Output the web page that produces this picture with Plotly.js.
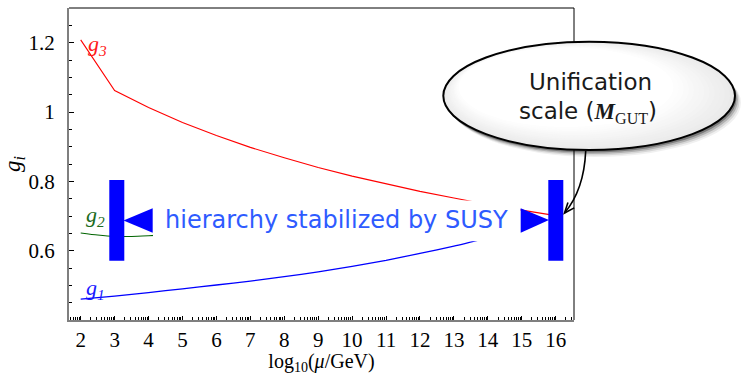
<!DOCTYPE html>
<html><head><meta charset="utf-8">
<script src="https://cdn.plot.ly/plotly-3.0.1.min.js"></script>
<style>html,body{margin:0;padding:0;background:#fff}#chart{width:741px;height:375px}</style>
</head><body><div id="chart"></div>
<script>
// ---- data ----
const xG3 = [2, 3, 4, 5, 6, 7, 8, 9, 10, 11, 12, 13, 14, 15, 16];
const g3  = [1.208, 1.062, 1.013, 0.970, 0.932, 0.898, 0.868, 0.840, 0.815, 0.792, 0.771, 0.752, 0.733, 0.717, 0.701];
const xG2 = [2, 2.5, 3, 3.5, 4, 4.2];
const g2  = [0.651, 0.645, 0.641, 0.641, 0.643, 0.644];
const xG1 = [2, 3, 4, 5, 6, 7, 8, 9, 10, 11, 12, 13, 14];
const g1  = [0.460, 0.469, 0.479, 0.490, 0.501, 0.512, 0.525, 0.539, 0.555, 0.572, 0.592, 0.613, 0.637];
const xTicks = [2, 3, 4, 5, 6, 7, 8, 9, 10, 11, 12, 13, 14, 15, 16];
const xTickLabels = ['2','3','4','5','6','7','8','9','10','11','12','13','14','15','16'];
const yTicks = [0.6, 0.8, 1, 1.2];
const yTickLabels = ['0.6','0.8','1','1.2'];
const curveLabels = ['g<sub>3</sub>', 'g<sub>2</sub>', 'g<sub>1</sub>'];
const bannerText = 'hierarchy stabilized by SUSY';
const calloutLines = ['Unification', 'scale (<span style="font-family:\'Liberation Serif\'"><i><b>M</b></i><sub>GUT</sub></span>)'];

// ---- geometry (pixel frame of the plot area) ----
const L = 69, R = 574, T = 8, B = 320;
function P(px, py){ return [(px - L) / (R - L), (B - py) / (B - T)]; }
function pt(px, py){ const p = P(px, py); return p[0].toFixed(5) + ',' + p[1].toFixed(5); }

const minorX = [];
for (let n = 1; n <= 16; n++) for (let k = 2; k <= 9; k++) minorX.push(n + Math.log10(k));

const traces = [
  {x: xG3, y: g3, mode: 'lines', line: {color: '#ff0000', width: 1.1}, hoverinfo: 'skip', showlegend: false},
  {x: xG2, y: g2, mode: 'lines', line: {color: '#006400', width: 1.1, shape: 'spline', smoothing: 0.6}, hoverinfo: 'skip', showlegend: false},
  {x: xG1, y: g1, mode: 'lines', line: {color: '#0000ff', width: 1.3, shape: 'spline', smoothing: 0.6}, hoverinfo: 'skip', showlegend: false}
];

const shapes = [];
function rectPx(x0, y0, x1, y1, fill){
  const a = P(x0, y1), b = P(x1, y0);
  shapes.push({type: 'rect', xref: 'paper', yref: 'paper', x0: a[0], y0: a[1], x1: b[0], y1: b[1],
               fillcolor: fill, line: {width: 0}, layer: 'above'});
}
function pathPx(d, fill, lineColor, lw){
  shapes.push({type: 'path', xref: 'paper', yref: 'paper', path: d, fillcolor: fill || 'rgba(0,0,0,0)',
               line: {color: lineColor || 'rgba(0,0,0,0)', width: lw || 0}, layer: 'above'});
}
function ellPx(x0, y0, x1, y1, fill, lineColor, lw){
  const a = P(x0, y1), b = P(x1, y0);
  shapes.push({type: 'circle', xref: 'paper', yref: 'paper', x0: a[0], y0: a[1], x1: b[0], y1: b[1],
               fillcolor: fill, line: {color: lineColor || 'rgba(0,0,0,0)', width: lw || 0}, layer: 'above'});
}
// white band behind the banner text
rectPx(153, 200.5, 520.5, 241.2, '#ffffff');
// left marker
rectPx(109.3, 180, 124.3, 260.7, '#0000ff');
pathPx('M' + pt(123.5, 220.5) + 'L' + pt(152.7, 208.3) + 'L' + pt(152.7, 232.7) + 'Z', '#0000ff');
// right marker
pathPx('M' + pt(520.7, 208.3) + 'L' + pt(549, 220) + 'L' + pt(520.7, 232.7) + 'Z', '#0000ff');
rectPx(548.3, 180, 563.3, 260.7, '#0000ff');
// top / right frame lines
shapes.push({type: 'line', xref: 'paper', yref: 'paper', x0: 0, y0: 1, x1: 1, y1: 1, line: {color: '#000', width: 1}, layer: 'above'});
shapes.push({type: 'line', xref: 'paper', yref: 'paper', x0: 1, y0: 0, x1: 1, y1: 1, line: {color: '#000', width: 1}, layer: 'above'});
// callout ellipse with shadow and soft shading
const E = {x0: 443.3, y0: 41.7, x1: 735, y1: 150};
[[6, 7, 'rgba(0,0,0,0.06)'], [4.5, 5.5, 'rgba(0,0,0,0.1)'], [3, 4, 'rgba(0,0,0,0.18)'], [1.5, 2.5, 'rgba(0,0,0,0.3)']].forEach(s => {
  ellPx(E.x0 + s[0], E.y0 + s[1], E.x1 + s[0], E.y1 + s[1], s[2]);
});
const cx = (E.x0 + E.x1) / 2, cy = (E.y0 + E.y1) / 2, rx = (E.x1 - E.x0) / 2, ry = (E.y1 - E.y0) / 2;
for (let i = 0; i <= 12; i++) {
  const f = 1 - i * 0.022, sh = (1 - f) * 0.6;
  const g = Math.round(234 + i * 21 / 12);
  const ccx = cx - sh * rx, ccy = cy - sh * ry;
  ellPx(ccx - f * rx, ccy - f * ry, ccx + f * rx, ccy + f * ry, 'rgb(' + g + ',' + g + ',' + g + ')');
}
ellPx(E.x0, E.y0, E.x1, E.y1, 'rgba(0,0,0,0)', '#000000', 2);
// curved arrow
const A0 = [585.7, 151], C = [584, 190], TIP = [564.5, 213];
pathPx('M' + pt(A0[0], A0[1]) + 'Q' + pt(C[0], C[1]) + ' ' + pt(TIP[0], TIP[1]), null, '#000', 1.6);
(function(){
  let dx = TIP[0] - C[0], dy = TIP[1] - C[1];
  const n = Math.hypot(dx, dy); dx /= n; dy /= n;
  const len = 11, ang = 22 * Math.PI / 180;
  const b = [];
  [ang, -ang].forEach(a => {
    const rx2 = dx * Math.cos(a) - dy * Math.sin(a), ry2 = dx * Math.sin(a) + dy * Math.cos(a);
    b.push([TIP[0] - len * rx2, TIP[1] - len * ry2]);
  });
  pathPx('M' + pt(b[0][0], b[0][1]) + 'L' + pt(TIP[0], TIP[1]) + 'L' + pt(b[1][0], b[1][1]), null, '#000', 1.6);
})();

function ann(px, py, text, font, extra){
  const p = P(px, py);
  return Object.assign({xref: 'paper', yref: 'paper', x: p[0], y: p[1], text: text, showarrow: false,
                        xanchor: 'center', yanchor: 'middle', font: font}, extra || {});
}
const serif = 'Liberation Serif, Times New Roman, serif';
const sans = 'DejaVu Sans, sans-serif';
const annotations = [
  ann(97, 45, '<i>' + curveLabels[0] + '</i>', {family: serif, size: 22, color: '#ff1a1a'}),
  ann(95, 216, '<i>' + curveLabels[1] + '</i>', {family: serif, size: 22, color: '#1c6b1c'}),
  ann(95, 289, '<i>' + curveLabels[2] + '</i>', {family: serif, size: 22, color: '#1a1aff'}),
  ann(336.5, 220, bannerText, {family: sans, size: 24, color: '#2e5bff'}),
  ann(590, 82, calloutLines[0], {family: sans, size: 23, color: '#1a1a1a'}),
  ann(588, 112, calloutLines[1], {family: sans, size: 23, color: '#1a1a1a'})
];

const layout = {
  width: 741, height: 375,
  margin: {l: L, r: 741 - R, t: T, b: 375 - B},
  paper_bgcolor: '#ffffff', plot_bgcolor: '#ffffff',
  showlegend: false,
  xaxis: {
    range: [1.655, 16.54], tickmode: 'array', tickvals: xTicks, ticktext: xTickLabels,
    ticks: 'inside', ticklen: 4, tickwidth: 1, tickcolor: '#000',
    showline: true, linecolor: '#7f7f7f', linewidth: 2, showgrid: false, zeroline: false,
    tickfont: {family: serif, size: 21, color: '#000'}, ticklabelstandoff: 0,
    minor: {tickmode: 'array', tickvals: minorX, ticks: 'inside', ticklen: 3, tickwidth: 1, tickcolor: '#000', showgrid: false},
    title: {text: 'log<sub>10</sub>(<i>μ</i>/GeV)', font: {family: serif, size: 20, color: '#000'}, standoff: 11}
  },
  yaxis: {
    range: [0.4, 1.3], tickmode: 'array', tickvals: yTicks, ticktext: yTickLabels,
    ticks: 'inside', ticklen: 5, tickwidth: 1, tickcolor: '#000',
    showline: true, linecolor: '#7f7f7f', linewidth: 2, showgrid: false, zeroline: false,
    tickfont: {family: serif, size: 21, color: '#000'}, ticklabelstandoff: 8,
    minor: {tick0: 0.4, dtick: 0.05, ticks: 'inside', ticklen: 3, tickwidth: 1, tickcolor: '#000', showgrid: false},
    title: {text: '<i>g<sub>i</sub></i>', font: {family: serif, size: 23, color: '#000'}, standoff: 5}
  },
  shapes: shapes,
  annotations: annotations
};
Plotly.newPlot('chart', traces, layout, {staticPlot: true, displayModeBar: false});
</script>
</body></html>
